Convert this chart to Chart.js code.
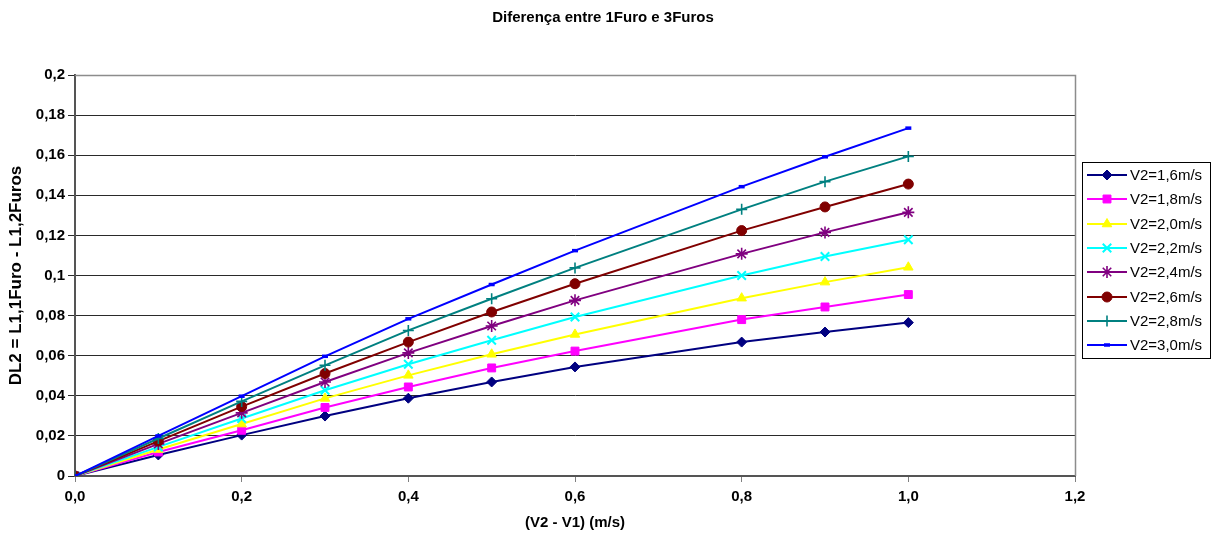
<!DOCTYPE html>
<html>
<head>
<meta charset="utf-8">
<script src="https://cdn.jsdelivr.net/npm/chart.js@4/dist/chart.umd.min.js"></script>
<style>
  html, body { margin: 0; padding: 0; background: #fff; }
  canvas { display: block; }
</style>
</head>
<body>
<canvas id="chart" width="1217" height="537"></canvas>
<script>
// Velocity difference (V2 - V1), m/s
const deltaV = [0, 0.1, 0.2, 0.3, 0.4, 0.5, 0.6, 0.8, 0.9, 1.0];

// DL2 for each upstream velocity V2
const v2_16 = [0, 0.0105, 0.0204, 0.0299, 0.0388, 0.0469, 0.0544, 0.0668, 0.0718, 0.0765];
const v2_18 = [0, 0.0120, 0.0228, 0.0342, 0.0444, 0.0539, 0.0623, 0.0780, 0.0843, 0.0905];
const v2_20 = [0, 0.0132, 0.0259, 0.0387, 0.0502, 0.0607, 0.0706, 0.0887, 0.0967, 0.1041];
const v2_22 = [0, 0.0145, 0.0287, 0.0428, 0.0557, 0.0677, 0.0793, 0.1000, 0.1095, 0.1178];
const v2_24 = [0, 0.0160, 0.0315, 0.0469, 0.0614, 0.0748, 0.0876, 0.1108, 0.1215, 0.1315];
const v2_26 = [0, 0.0174, 0.0346, 0.0511, 0.0668, 0.0818, 0.0959, 0.1224, 0.1342, 0.1456];
const v2_28 = [0, 0.0187, 0.0372, 0.0552, 0.0726, 0.0884, 0.1038, 0.1330, 0.1468, 0.1594];
const v2_30 = [0, 0.0200, 0.0398, 0.0597, 0.0784, 0.0955, 0.1124, 0.1443, 0.1592, 0.1735];

const seriesNames = ['V2=1,6m/s', 'V2=1,8m/s', 'V2=2,0m/s', 'V2=2,2m/s',
                     'V2=2,4m/s', 'V2=2,6m/s', 'V2=2,8m/s', 'V2=3,0m/s'];
const seriesValues = [v2_16, v2_18, v2_20, v2_22, v2_24, v2_26, v2_28, v2_30];

// Axis tick labels (decimal comma)
const xTickLabels = ['0,0', '0,2', '0,4', '0,6', '0,8', '1,0', '1,2'];
const yTickLabels = ['0', '0,02', '0,04', '0,06', '0,08', '0,1', '0,12', '0,14', '0,16', '0,18', '0,2'];

const chartTitle = 'Diferença entre 1Furo e 3Furos';

// Line colour and marker per series
const styles = [
  { color: '#000080', point: 'rectRot',  radius: 5,   bw: 1 },
  { color: '#FF00FF', point: 'rect',     radius: 5.6, bw: 1 },
  { color: '#FFFF00', point: 'triangle', radius: 5.5, bw: 1 },
  { color: '#00FFFF', point: 'crossRot', radius: 6,   bw: 2 },
  { color: '#800080', point: 'star',     radius: 6,   bw: 1.6 },
  { color: '#800000', point: 'circle',   radius: 5,   bw: 1 },
  { color: '#008080', point: 'cross',    radius: 5.5, bw: 1.6 },
  { color: '#0000FF', point: 'line',     radius: 3,   bw: 3.5 }
];

const FONT = "'Liberation Sans', Arial, sans-serif";

const datasets = seriesValues.map((vals, i) => ({
  label: seriesNames[i],
  data: vals.map((y, k) => ({ x: deltaV[k], y: y })),
  borderColor: styles[i].color,
  backgroundColor: styles[i].color,
  borderWidth: 2,
  pointStyle: styles[i].point,
  pointRadius: styles[i].radius,
  pointBorderWidth: styles[i].bw,
  pointBorderColor: styles[i].color,
  pointBackgroundColor: styles[i].color,
  tension: 0,
  fill: false,
  order: seriesValues.length - i
}));

// Chart heading, centred on the whole canvas
const heading = {
  id: 'heading',
  afterDraw(chart) {
    const { ctx } = chart;
    ctx.save();
    ctx.fillStyle = '#000';
    ctx.font = 'bold 15px ' + FONT;
    ctx.textAlign = 'center';
    ctx.textBaseline = 'middle';
    ctx.fillText(chartTitle, 603, 18);
    ctx.restore();
  }
};

// Grey frame on the top and right of the plot area
const plotFrame = {
  id: 'plotFrame',
  beforeDatasetsDraw(chart) {
    const { ctx, chartArea: a } = chart;
    ctx.save();
    ctx.strokeStyle = '#8c8c8c';
    ctx.lineWidth = 1.5;
    ctx.beginPath();
    ctx.moveTo(a.left, a.top + 0.5);
    ctx.lineTo(a.right + 0.5, a.top + 0.5);
    ctx.lineTo(a.right + 0.5, a.bottom);
    ctx.stroke();
    ctx.restore();
  }
};

// Boxed legend with a line segment and marker for each series
const lineLegend = {
  id: 'lineLegend',
  afterDraw(chart) {
    const { ctx } = chart;
    const box = { x: 1082.5, y: 162.5, w: 128, h: 196 };
    const rowH = 24.3, firstY = 175;
    ctx.save();
    ctx.fillStyle = '#fff';
    ctx.fillRect(box.x, box.y, box.w, box.h);
    ctx.strokeStyle = '#000';
    ctx.lineWidth = 1;
    ctx.strokeRect(box.x, box.y, box.w, box.h);
    chart.data.datasets.forEach((ds, i) => {
      const y = Math.round(firstY + i * rowH);
      ctx.strokeStyle = ds.borderColor;
      ctx.lineWidth = 2;
      ctx.beginPath();
      ctx.moveTo(1087, y);
      ctx.lineTo(1127, y);
      ctx.stroke();
      ctx.fillStyle = ds.pointBackgroundColor;
      ctx.strokeStyle = ds.pointBorderColor;
      ctx.lineWidth = ds.pointBorderWidth;
      Chart.helpers.drawPoint(ctx, {
        pointStyle: ds.pointStyle,
        radius: ds.pointRadius,
        borderWidth: ds.pointBorderWidth,
        rotation: 0
      }, 1107, y);
      ctx.fillStyle = '#000';
      ctx.font = '15px ' + FONT;
      ctx.textAlign = 'left';
      ctx.textBaseline = 'middle';
      ctx.fillText(ds.label, 1130, y + 1);
    });
    ctx.restore();
  }
};

new Chart(document.getElementById('chart'), {
  type: 'line',
  data: { datasets },
  plugins: [plotFrame, lineLegend, heading],
  options: {
    responsive: false,
    animation: false,
    devicePixelRatio: 1,
    layout: { padding: { left: 0, right: 142, top: 75, bottom: 0 } },
    plugins: {
      legend: { display: false },
      tooltip: { enabled: false },
      title: { display: false }
    },
    scales: {
      x: {
        type: 'linear',
        min: 0,
        max: 1.2,
        ticks: {
          stepSize: 0.2,
          color: '#000',
          padding: 6,
          font: { family: FONT, size: 15, weight: 'bold' },
          callback: (v, i) => xTickLabels[i]
        },
        grid: { drawOnChartArea: false, drawTicks: true, tickLength: 6, color: '#808080' },
        border: { display: true, color: '#555', width: 2 },
        title: {
          display: true,
          text: '(V2 - V1) (m/s)',
          color: '#000',
          font: { family: FONT, size: 15, weight: 'bold' },
          padding: { top: 0, bottom: 5 }
        },
        afterFit(scale) { scale.height = 61; }
      },
      y: {
        type: 'linear',
        min: 0,
        max: 0.2,
        ticks: {
          stepSize: 0.02,
          color: '#000',
          padding: 3,
          font: { family: FONT, size: 15, weight: 'bold' },
          callback: (v, i) => yTickLabels[i]
        },
        grid: { color: '#2a2a2a', lineWidth: 1, tickLength: 7 },
        border: { display: true, color: '#555', width: 2 },
        title: {
          display: true,
          text: 'DL2 = L1,1Furo - L1,2Furos',
          color: '#000',
          font: { family: FONT, size: 17, weight: 'bold' },
          padding: { top: 6, bottom: 0 }
        },
        afterFit(scale) { scale.width = 75; }
      }
    }
  }
});
</script>
</body>
</html>
